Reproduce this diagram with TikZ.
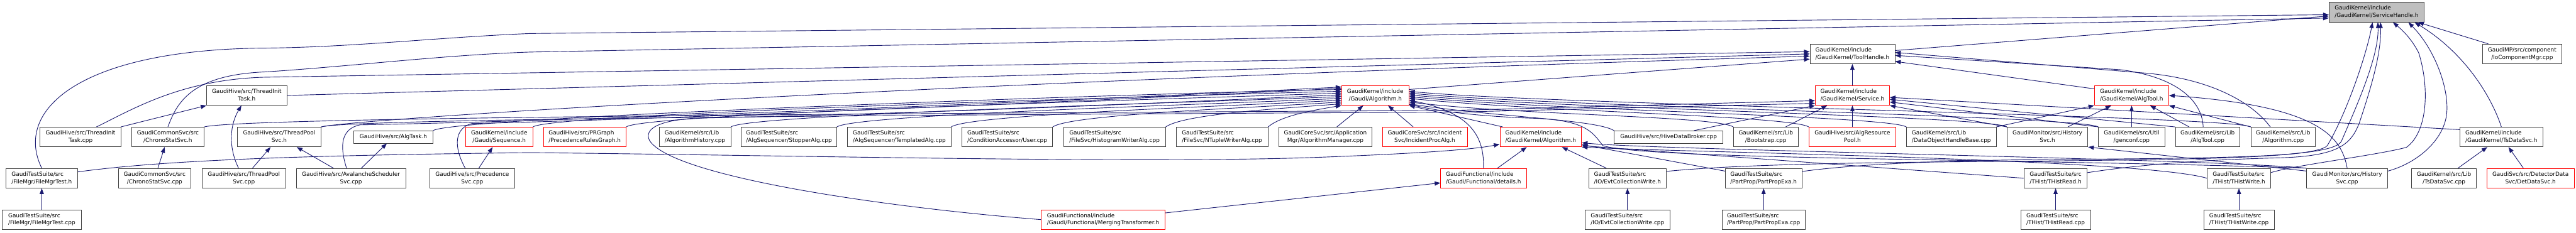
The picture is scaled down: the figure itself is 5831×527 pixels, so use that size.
\documentclass[tikz,border=0pt]{standalone}
\usepackage{fontspec}
\setmainfont{DejaVu Sans}
\usetikzlibrary{arrows.meta}
\definecolor{edgeblue}{HTML}{191970}
\newcommand{\twoln}[2]{\begin{tabular}{@{}c@{}}\multicolumn{1}{@{}l@{}}{#1}\\#2\end{tabular}}

\begin{document}
\begin{tikzpicture}[
                    x=1pt, y=-1pt,
                    file/.style={rectangle, draw=black!75, fill=white, line width=1pt, inner xsep=2pt, inner ysep=0pt, minimum height=44.7pt, font=\fontsize{12.7}{16.7}\selectfont},
                    redfile/.style={file, draw=red},
                    rootfile/.style={file, fill=black!25},
                    oneline/.style={file, minimum height=28pt},
                    arrow/.style={-{Stealth[length=13pt, width=9.5pt, inset=0pt]}, line width=1.3pt, draw=edgeblue}
                ]
    \useasboundingbox (0,0) rectangle (5831,527);
    \fill[white] (0,0) rectangle (5831,527);

    \node[rootfile, minimum width=215pt] (svch) at (5379.5,27.7) {\twoln{GaudiKernel/include}{/GaudiKernel/ServiceHandle.h}};

    \node[file, minimum width=192pt] (toolh) at (4193,122.2) {\twoln{GaudiKernel/include}{/GaudiKernel/ToolHandle.h}};
    \node[file, minimum width=180pt] (iocmp) at (5709,122.2) {\twoln{GaudiMP/src/component}{/IoComponentMgr.cpp}};

    \node[file, minimum width=183pt] (inith) at (558.5,216.3) {\twoln{GaudiHive/src/ThreadInit}{Task.h}};
    \node[redfile, minimum width=152pt] (galg) at (3113,216.3) {\twoln{GaudiKernel/include}{/Gaudi/Algorithm.h}};
    \node[redfile, minimum width=168pt] (svc) at (4193,216.3) {\twoln{GaudiKernel/include}{/GaudiKernel/Service.h}};
    \node[redfile, minimum width=168pt] (algtool) at (4825,216.3) {\twoln{GaudiKernel/include}{/GaudiKernel/AlgTool.h}};

    \node[file, minimum width=183pt] (initcpp) at (182.3,310.5) {\twoln{GaudiHive/src/ThreadInit}{Task.cpp}};
    \node[file, minimum width=164pt] (chronoh) at (380,310.5) {\twoln{GaudiCommonSvc/src}{/ChronoStatSvc.h}};
    \node[file, minimum width=190pt] (poolh) at (632,310.5) {\twoln{GaudiHive/src/ThreadPool}{Svc.h}};
    \node[oneline, minimum width=179pt] (algtask) at (890.5,310.5) {GaudiHive/src/AlgTask.h};
    \node[redfile, minimum width=152pt] (seq) at (1130,310.5) {\twoln{GaudiKernel/include}{/Gaudi/Sequence.h}};
    \node[redfile, minimum width=187pt] (prgraph) at (1323.5,310.5) {\twoln{GaudiHive/src/PRGraph}{/PrecedenceRulesGraph.h}};
    \node[file, minimum width=162pt] (alghist) at (1573,310.5) {\twoln{GaudiKernel/src/Lib}{/AlgorithmHistory.cpp}};
    \node[file, minimum width=216pt] (stopper) at (1786,310.5) {\twoln{GaudiTestSuite/src}{/AlgSequencer/StopperAlg.cpp}};
    \node[file, minimum width=234pt] (templ) at (2035.7,310.5) {\twoln{GaudiTestSuite/src}{/AlgSequencer/TemplatedAlg.cpp}};
    \node[file, minimum width=205pt] (user) at (2280,310.5) {\twoln{GaudiTestSuite/src}{/ConditionAccessor/User.cpp}};
    \node[file, minimum width=231pt] (histwr) at (2522.7,310.5) {\twoln{GaudiTestSuite/src}{/FileSvc/HistogramWriterAlg.cpp}};
    \node[file, minimum width=208pt] (ntuplewr) at (2766,310.5) {\twoln{GaudiTestSuite/src}{/FileSvc/NTupleWriterAlg.cpp}};
    \node[file, minimum width=212pt] (algmgr) at (3000,310.5) {\twoln{GaudiCoreSvc/src/Application}{Mgr/AlgorithmManager.cpp}};
    \node[redfile, minimum width=192pt] (incproc) at (3225,310.5) {\twoln{GaudiCoreSvc/src/Incident}{Svc/IncidentProcAlg.h}};
    \node[redfile, minimum width=185pt] (gkalg) at (3487.5,310.5) {\twoln{GaudiKernel/include}{/GaudiKernel/Algorithm.h}};
    \node[oneline, minimum width=246pt] (broker) at (3777,310.5) {GaudiHive/src/HiveDataBroker.cpp};
    \node[file, minimum width=146pt] (boot) at (3997,310.5) {\twoln{GaudiKernel/src/Lib}{/Bootstrap.cpp}};
    \node[redfile, minimum width=197pt] (respool) at (4193,310.5) {\twoln{GaudiHive/src/AlgResource}{Pool.h}};
    \node[file, minimum width=203pt] (dohandle) at (4417,310.5) {\twoln{GaudiKernel/src/Lib}{/DataObjectHandleBase.cpp}};
    \node[file, minimum width=183pt] (histsvch) at (4634.5,310.5) {\twoln{GaudiMonitor/src/History}{Svc.h}};
    \node[file, minimum width=150pt] (genconf) at (4825,310.5) {\twoln{GaudiKernel/src/Util}{/genconf.cpp}};
    \node[file, minimum width=146pt] (algtoolcpp) at (4997,310.5) {\twoln{GaudiKernel/src/Lib}{/AlgTool.cpp}};
    \node[file, minimum width=146pt] (algcpp) at (5168,310.5) {\twoln{GaudiKernel/src/Lib}{/Algorithm.cpp}};
    \node[file, minimum width=188pt] (tsdatah) at (5662,310.5) {\twoln{GaudiKernel/include}{/GaudiKernel/TsDataSvc.h}};

    \node[file, minimum width=163pt] (fmgrh) at (94.5,404) {\twoln{GaudiTestSuite/src}{/FileMgr/FileMgrTest.h}};
    \node[file, minimum width=165pt] (chronocpp) at (350,404) {\twoln{GaudiCommonSvc/src}{/ChronoStatSvc.cpp}};
    \node[file, minimum width=190pt] (poolcpp) at (552,404) {\twoln{GaudiHive/src/ThreadPool}{Svc.cpp}};
    \node[file, minimum width=247pt] (aval) at (794.5,404) {\twoln{GaudiHive/src/AvalancheScheduler}{Svc.cpp}};
    \node[file, minimum width=191pt] (precsvc) at (1069,404) {\twoln{GaudiHive/src/Precedence}{Svc.cpp}};
    \node[redfile, minimum width=194pt] (details) at (3358,404) {\twoln{GaudiFunctional/include}{/Gaudi/Functional/details.h}};
    \node[file, minimum width=176pt] (evth) at (3684,404) {\twoln{GaudiTestSuite/src}{/IO/EvtCollectionWrite.h}};
    \node[file, minimum width=173pt] (partph) at (3992,404) {\twoln{GaudiTestSuite/src}{/PartProp/PartPropExa.h}};
    \node[file, minimum width=142pt] (treadh) at (4653,404) {\twoln{GaudiTestSuite/src}{/THist/THistRead.h}};
    \node[file, minimum width=144pt] (twriteh) at (5068,404) {\twoln{GaudiTestSuite/src}{/THist/THistWrite.h}};
    \node[file, minimum width=184pt] (histsvccpp) at (5313,404) {\twoln{GaudiMonitor/src/History}{Svc.cpp}};
    \node[file, minimum width=146pt] (tsdatacpp) at (5532,404) {\twoln{GaudiKernel/src/Lib}{/TsDataSvc.cpp}};
    \node[redfile, minimum width=197pt] (detdata) at (5728,404) {\twoln{GaudiSvc/src/DetectorData}{Svc/DetDataSvc.h}};

    \node[file, minimum width=179pt] (fmgrcpp) at (94.5,497.8) {\twoln{GaudiTestSuite/src}{/FileMgr/FileMgrTest.cpp}};
    \node[redfile, minimum width=280pt] (merging) at (2497,497.8) {\twoln{GaudiFunctional/include}{/Gaudi/Functional/MergingTransformer.h}};
    \node[file, minimum width=191pt] (evtcpp) at (3684,497.8) {\twoln{GaudiTestSuite/src}{/IO/EvtCollectionWrite.cpp}};
    \node[file, minimum width=188pt] (partpcpp) at (3992,497.8) {\twoln{GaudiTestSuite/src}{/PartProp/PartPropExa.cpp}};
    \node[file, minimum width=158pt] (treadcpp) at (4653,497.8) {\twoln{GaudiTestSuite/src}{/THist/THistRead.cpp}};
    \node[file, minimum width=160pt] (twritecpp) at (5068,497.8) {\twoln{GaudiTestSuite/src}{/THist/THistWrite.cpp}};

    \draw[arrow] (toolh) -- (svch);
    \draw[arrow] ([xshift=14pt]iocmp.north west) -- ([xshift=-14pt]svch.south east);
    \draw[arrow] (fmgrh.north) .. controls (30,250) and (180,112) .. (600,109) .. controls (800,107) and (1000,84) .. (1200,76) -- (svch.183);
    \draw[arrow] (chronoh.north) .. controls (400,235) and (430,170) .. (600,163) .. controls (800,150) and (1000,125) .. (1200,118) -- (svch.187);
    \draw[arrow] (tsdatah.north) .. controls (5640,220) and (5580,120) .. ([xshift=86pt]svch.south);
    \draw[arrow] (histsvccpp.10) .. controls (5470,370) and (5530,320) .. (5538,260) .. controls (5545,200) and (5510,110) .. ([xshift=72pt]svch.south);
    \draw[arrow] (twriteh.10) .. controls (5190,375) and (5380,352) .. (5447,334) .. controls (5495,300) and (5500,200) .. (5475,120) .. controls (5460,90) and (5440,70) .. ([xshift=37pt]svch.south);
    \draw[arrow] (treadh.10) .. controls (4850,372) and (5000,362) .. (5150,358) .. controls (5290,355) and (5320,330) .. (5340,280) .. controls (5370,190) and (5390,120) .. ([xshift=9pt]svch.south);
    \draw[arrow] (partph.10) .. controls (4200,372) and (4400,364) .. (4600,362) .. controls (5000,358) and (5280,360) .. (5300,320) .. controls (5330,250) and (5385,130) .. ([xshift=3pt]svch.south);
    \draw[arrow] (evth.10) .. controls (3900,376) and (4100,370) .. (4400,367) .. controls (4900,362) and (5240,362) .. (5268,330) .. controls (5310,260) and (5355,130) .. ([xshift=-9pt]svch.south);

    \draw[arrow] (svc) -- (toolh);
    \draw[arrow] (algtool.170) -- (toolh.-10);
    \draw[arrow] ([xshift=-10pt]algtoolcpp.north) .. controls (4985,230) and (4930,175) .. (4800,158) -- (toolh.-2);
    \draw[arrow] ([xshift=-29pt]algcpp.north) .. controls (5100,235) and (5010,180) .. (4860,166) -- (toolh.2);
    \draw[arrow] (galg.10) -- (toolh.187);
    \draw[arrow] (inith.east) -- (toolh.180);
    \draw[arrow] ([xshift=36pt]initcpp.north) .. controls (300,248) and (410,180) .. (600,175) -- (toolh.177);
    \draw[arrow] (poolh.north east) .. controls (780,272) and (2000,190) .. (toolh.183);

    \draw[arrow] (initcpp) -- (inith);
    \draw[arrow] ([xshift=-12pt]poolcpp.north) .. controls (515,330) and (522,280) .. ([xshift=-12pt]inith.south);

    \draw[arrow] (chronoh.north east) .. controls (560,262) and (2600,255) .. (3300,250) -- (svc.188);
    \draw[arrow] (poolh.north east) .. controls (790,266) and (2600,258) .. (3300,254) -- (svc.192);
    \draw[arrow] ([xshift=-66pt]broker.north east) -- (svc.south west);
    \draw[arrow] ([xshift=45pt]boot.north) -- ([xshift=-57pt]svc.south);
    \draw[arrow] (respool) -- (svc);
    \draw[arrow] (histsvch.north west) -- (svc.south east);
    \draw[arrow] (genconf.north west) -- (svc.-10);
    \draw[arrow] (algtoolcpp.north west) -- (svc.-6);
    \draw[arrow] (tsdatah.170) -- (svc.-3);

    \draw[arrow] (genconf) -- (algtool);
    \draw[arrow] (algtoolcpp) -- (algtool);
    \draw[arrow] (algcpp.north west) -- (algtool.south east);
    \draw[arrow] (dohandle.north east) -- (algtool.south west);
    \draw[arrow] (histsvch) -- (algtool);
    \draw[arrow] (histsvccpp.north) .. controls (5300,310) and (5250,240) .. (algtool.east);

    \draw[arrow] ([xshift=-10pt]aval.north) .. controls (768,330) and (772,292) .. (815,283) .. controls (1500,270) and (2700,215) .. (galg.166);
    \draw[arrow] ([xshift=-16pt]precsvc.north) .. controls (1025,330) and (1030,290) .. (1068,280) .. controls (1600,268) and (2700,218) .. (galg.168);
    \draw[arrow] (algtask.north east) .. controls +(40,-30) and +(-500,10) .. (galg.170);
    \draw[arrow] (seq.north east) .. controls +(40,-30) and +(-450,12) .. (galg.173);
    \draw[arrow] (prgraph.north east) .. controls +(40,-30) and +(-400,14) .. (galg.176);
    \draw[arrow] (merging.west) .. controls (2000,470) and (1520,400) .. (1470,318) .. controls (1458,292) and (1490,274) .. (1570,268) .. controls (2200,255) and (2800,225) .. (galg.179);
    \draw[arrow] (alghist.north east) .. controls +(40,-28) and +(-350,14) .. (galg.182);
    \draw[arrow] (stopper.north east) .. controls +(40,-28) and +(-300,14) .. (galg.185);
    \draw[arrow] (templ.north east) .. controls +(40,-28) and +(-260,14) .. (galg.188);
    \draw[arrow] (user.north east) .. controls +(40,-28) and +(-220,14) .. (galg.191);
    \draw[arrow] (histwr.north east) .. controls +(40,-28) and +(-160,12) .. (galg.194);
    \draw[arrow] (ntuplewr.north east) .. controls +(30,-26) and +(-60,10) .. (galg.south west);
    \draw[arrow] ([xshift=26pt]algmgr.north) -- ([xshift=-27pt]galg.south);
    \draw[arrow] ([xshift=-26pt]incproc.north) -- ([xshift=29pt]galg.south);
    \draw[arrow] ([xshift=7pt]gkalg.north west) -- (galg.south east);
    \draw[arrow] (details.north) .. controls (3360,310) and (3330,255) .. (galg.-8);

    \draw[arrow] (broker.north west) .. controls +(-40,-25) and +(200,30) .. (galg.-14);
    \draw[arrow] (boot.north west) .. controls +(-40,-25) and +(250,30) .. (galg.-11);
    \draw[arrow] (respool.north west) .. controls +(-40,-25) and +(300,30) .. (galg.-5);
    \draw[arrow] (dohandle.north west) .. controls +(-40,-25) and +(300,30) .. (galg.-2);
    \draw[arrow] (histsvch.north west) .. controls +(-40,-25) and +(300,30) .. (galg.1);
    \draw[arrow] (genconf.north west) .. controls +(-40,-25) and +(300,30) .. (galg.4);
    \draw[arrow] (algcpp.north west) .. controls +(-40,-25) and +(300,30) .. (galg.7);
    \draw[arrow] (histsvccpp.north west) .. controls (4600,360) and (3720,362) .. (3628,330) .. controls (3605,300) and (3590,272) .. (3470,268) .. controls (3300,262) and (3230,245) .. (galg.-15);

    \draw[arrow] (fmgrh.10) .. controls (380,362) and (700,352) .. (1200,346) .. controls (1800,352) and (2600,372) .. (3000,356) .. controls (3200,348) and (3330,340) .. (gkalg.190);
    \draw[arrow] (details) -- (gkalg);
    \draw[arrow] (evth) -- (gkalg);
    \draw[arrow] (partph) -- (gkalg);
    \draw[arrow] (treadh.west) -- (gkalg.-12);
    \draw[arrow] (twriteh.west) .. controls (4850,360) and (3800,345) .. (gkalg.south east);
    \draw[arrow] (histsvccpp.north west) .. controls (5000,360) and (3750,340) .. (gkalg.-8);

    \draw[arrow] (chronocpp) -- (chronoh);
    \draw[arrow] (poolcpp) -- (poolh);
    \draw[arrow] (aval) -- (poolh);
    \draw[arrow] (aval) -- (algtask);
    \draw[arrow] (precsvc) -- (seq);
    \draw[arrow] (merging) -- (details);
    \draw[arrow] (histsvccpp.170) -- (histsvch.south east);
    \draw[arrow] (tsdatacpp) -- (tsdatah);
    \draw[arrow] (detdata) -- (tsdatah);
    \draw[arrow] (fmgrcpp) -- (fmgrh);
    \draw[arrow] (evtcpp) -- (evth);
    \draw[arrow] (partpcpp) -- (partph);
    \draw[arrow] (treadcpp) -- (treadh);
    \draw[arrow] (twritecpp) -- (twriteh);
\end{tikzpicture}
\end{document}
